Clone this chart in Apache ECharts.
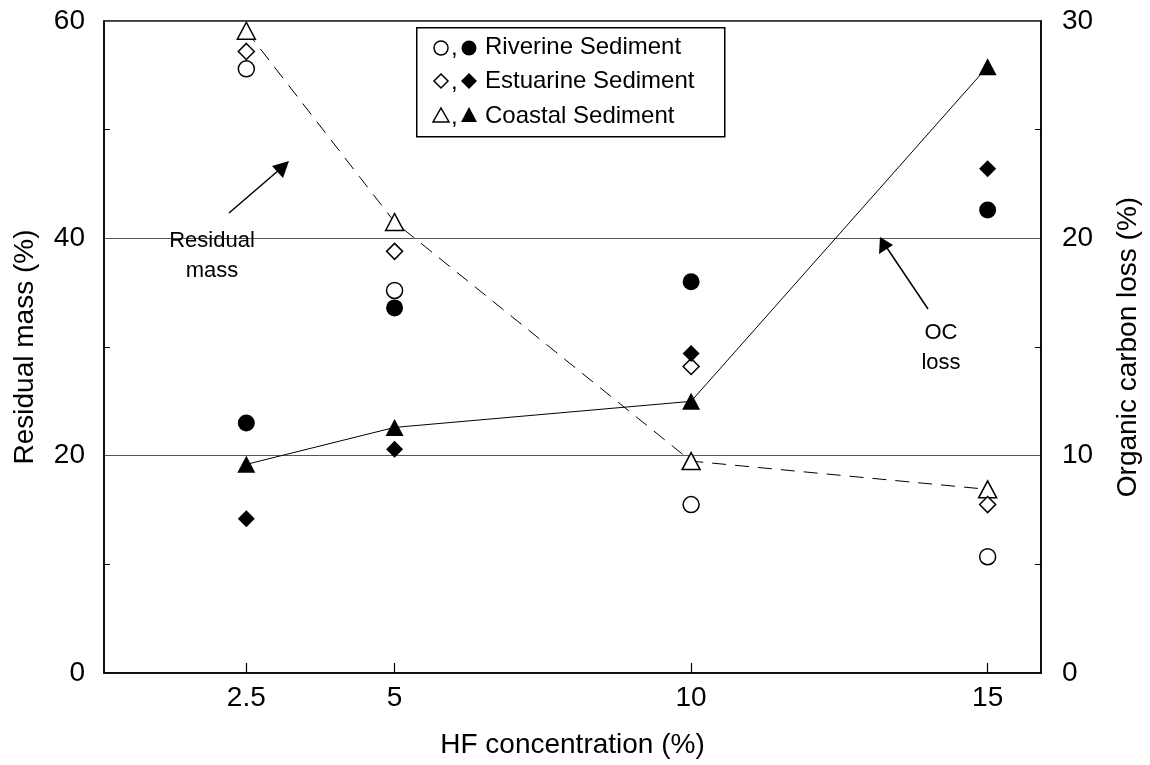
<!DOCTYPE html>
<html>
<head>
<meta charset="utf-8">
<script src="https://cdn.jsdelivr.net/npm/echarts@6/dist/echarts.min.js"></script>
<style>
html,body{margin:0;padding:0;background:#fff;}
#chart{width:1150px;height:765px;}
</style>
</head>
<body>
<div id="chart"></div>
<script>
// HF concentration (%)
const hf = [2.5, 5, 10, 15];
// Residual mass (%) – open symbols, left axis
const riverineResidual = [55.6, 35.2, 15.5, 10.7];
const estuarineResidual = [57.2, 38.8, 28.2, 15.5];
const coastalResidual = [59.1, 41.5, 19.5, 16.9];
// Organic carbon loss (%) – filled symbols, right axis
const riverineOC = [11.5, 16.8, 18.0, 21.3];
const estuarineOC = [7.1, 10.3, 14.7, 23.2];
const coastalOC = [9.6, 11.3, 12.5, 27.9];
// Tick labels
const xTicks = [2.5, 5, 10, 15];

const pairs = arr => hf.map((x, i) => [x, arr[i]]);
const FONT = '"Liberation Sans", Arial, Helvetica, sans-serif';
const AX = 28;   // axis font size
const LG = 24;   // legend font size

const openStyle = { color: '#fff', borderColor: '#000', borderWidth: 1.5, opacity: 1 };
const filledStyle = { color: '#000', borderColor: '#000', borderWidth: 0, opacity: 1 };

const chart = echarts.init(document.getElementById('chart'), null, { renderer: 'canvas' });

const option = {
  animation: false,
  backgroundColor: '#fff',
  textStyle: { fontFamily: FONT, color: '#000' },
  grid: {
    left: 104, right: 109, top: 21, bottom: 92,
    show: true, borderColor: '#000', borderWidth: 1.5, backgroundColor: 'transparent'
  },
  xAxis: {
    type: 'value', min: 0.1, max: 15.9,
    name: 'HF concentration (%)', nameLocation: 'middle', nameGap: 58,
    nameTextStyle: { fontSize: AX, fontFamily: FONT, color: '#000' },
    axisLine: { show: true, lineStyle: { color: '#000', width: 1.5 } },
    axisTick: { show: true, inside: true, length: 10, customValues: xTicks, lineStyle: { color: '#000', width: 1.2 } },
    axisLabel: { show: true, customValues: xTicks, fontSize: AX, fontFamily: FONT, color: '#000', margin: 11,
      formatter: v => String(v) },
    splitLine: { show: false }
  },
  yAxis: [
    {
      type: 'value', min: 0, max: 60, interval: 20, position: 'left',
      name: 'Residual mass (%)', nameLocation: 'middle', nameGap: 65, nameRotate: 90,
      nameTextStyle: { fontSize: AX, fontFamily: FONT, color: '#000' },
      axisLine: { show: true, lineStyle: { color: '#000', width: 1.5 } },
      axisTick: { show: false, inside: true, length: 6 },
      minorTick: { show: true, splitNumber: 2, length: 6, lineStyle: { color: '#000', width: 1 } },
      axisLabel: { fontSize: AX, fontFamily: FONT, color: '#000', margin: 19 },
      splitLine: { show: true, lineStyle: { color: '#555', width: 1.2 } },
      minorSplitLine: { show: false }
    },
    {
      type: 'value', min: 0, max: 30, interval: 10, position: 'right',
      name: 'Organic carbon loss (%)', nameLocation: 'middle', nameGap: 73, nameRotate: 90,
      nameTextStyle: { fontSize: AX, fontFamily: FONT, color: '#000' },
      axisLine: { show: true, lineStyle: { color: '#000', width: 1.5 } },
      axisTick: { show: false, inside: true, length: 6 },
      minorTick: { show: true, splitNumber: 2, length: 6, lineStyle: { color: '#000', width: 1 } },
      axisLabel: { fontSize: AX, fontFamily: FONT, color: '#000', margin: 21 },
      splitLine: { show: false },
      minorSplitLine: { show: false }
    }
  ],
  series: [
    {
      name: 'Coastal residual', type: 'line', yAxisIndex: 0, data: pairs(coastalResidual),
      symbol: 'triangle', symbolSize: [18, 17], showSymbol: true, z: 3,
      itemStyle: openStyle, lineStyle: { color: '#000', width: 1, type: [14, 9] }
    },
    {
      name: 'Coastal OC', type: 'line', yAxisIndex: 1, data: pairs(coastalOC),
      symbol: 'triangle', symbolSize: [18, 17], showSymbol: true, z: 3,
      itemStyle: filledStyle, lineStyle: { color: '#000', width: 1 }
    },
    {
      name: 'Riverine residual', type: 'scatter', yAxisIndex: 0, data: pairs(riverineResidual),
      symbol: 'circle', symbolSize: 16, itemStyle: openStyle, z: 4
    },
    {
      name: 'Estuarine residual', type: 'scatter', yAxisIndex: 0, data: pairs(estuarineResidual),
      symbol: 'diamond', symbolSize: 16, itemStyle: openStyle, z: 4
    },
    {
      name: 'Riverine OC', type: 'scatter', yAxisIndex: 1, data: pairs(riverineOC),
      symbol: 'circle', symbolSize: 17, itemStyle: filledStyle, z: 4
    },
    {
      name: 'Estuarine OC', type: 'scatter', yAxisIndex: 1, data: pairs(estuarineOC),
      symbol: 'diamond', symbolSize: 17, itemStyle: filledStyle, z: 4
    }
  ],
  graphic: [
    // Legend box
    { type: 'rect', left: 416, top: 27, shape: { width: 308, height: 109 },
      style: { fill: '#fff', stroke: '#000', lineWidth: 1.5 }, z: 10 },
    // Row 1
    { type: 'circle', shape: { cx: 441, cy: 48, r: 7 }, style: { fill: '#fff', stroke: '#000', lineWidth: 1.5 }, z: 11 },
    { type: 'text', left: 451, top: 36, style: { text: ',', fontSize: LG, fontFamily: FONT, fill: '#000' }, z: 11 },
    { type: 'circle', shape: { cx: 469, cy: 48, r: 7.5 }, style: { fill: '#000' }, z: 11 },
    { type: 'text', left: 485, top: 35, style: { text: 'Riverine Sediment', fontSize: LG, fontFamily: FONT, fill: '#000' }, z: 11 },
    // Row 2
    { type: 'polygon', shape: { points: [[441, 74], [448, 81], [441, 88], [434, 81]] }, style: { fill: '#fff', stroke: '#000', lineWidth: 1.5 }, z: 11 },
    { type: 'text', left: 451, top: 70, style: { text: ',', fontSize: LG, fontFamily: FONT, fill: '#000' }, z: 11 },
    { type: 'polygon', shape: { points: [[469, 73], [477, 81], [469, 89], [461, 81]] }, style: { fill: '#000' }, z: 11 },
    { type: 'text', left: 485, top: 69, style: { text: 'Estuarine Sediment', fontSize: LG, fontFamily: FONT, fill: '#000' }, z: 11 },
    // Row 3
    { type: 'polygon', shape: { points: [[441, 108], [449, 122], [433, 122]] }, style: { fill: '#fff', stroke: '#000', lineWidth: 1.5 }, z: 11 },
    { type: 'text', left: 451, top: 105, style: { text: ',', fontSize: LG, fontFamily: FONT, fill: '#000' }, z: 11 },
    { type: 'polygon', shape: { points: [[469, 107], [477, 122], [461, 122]] }, style: { fill: '#000' }, z: 11 },
    { type: 'text', left: 485, top: 104, style: { text: 'Coastal Sediment', fontSize: LG, fontFamily: FONT, fill: '#000' }, z: 11 },
    // Residual mass annotation
    { type: 'text', x: 212, y: 256, style: { text: 'Residual\nmass', fontSize: 22, fontFamily: FONT, fill: '#000',
        align: 'center', verticalAlign: 'middle', lineHeight: 30 }, z: 11 },
    { type: 'line', shape: { x1: 229, y1: 213, x2: 279, y2: 170 }, style: { stroke: '#000', lineWidth: 1.5 }, z: 11 },
    { type: 'polygon', shape: { points: [[289, 161], [272, 166], [283, 178]] }, style: { fill: '#000' }, z: 11 },
    // OC loss annotation
    { type: 'text', x: 941, y: 348, style: { text: 'OC\nloss', fontSize: 22, fontFamily: FONT, fill: '#000',
        align: 'center', verticalAlign: 'middle', lineHeight: 30 }, z: 11 },
    { type: 'line', shape: { x1: 928, y1: 309, x2: 887, y2: 248 }, style: { stroke: '#000', lineWidth: 1.5 }, z: 11 },
    { type: 'polygon', shape: { points: [[880, 237], [879, 254], [893, 245]] }, style: { fill: '#000' }, z: 11 }
  ]
};
chart.setOption(option);
</script>
</body>
</html>
